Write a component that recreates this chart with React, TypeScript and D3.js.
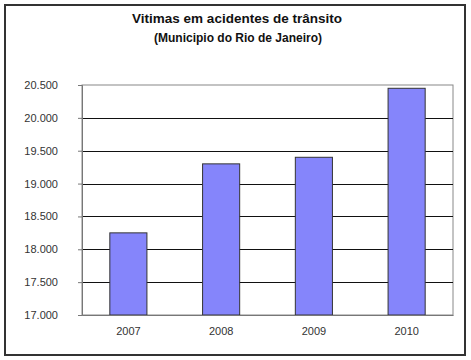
import React, {useEffect, useRef} from 'react';
import * as d3 from 'd3';

const years = ['2007', '2008', '2009', '2010'];
const victims = [18250, 19300, 19400, 20450];
const yTicks = [17000, 17500, 18000, 18500, 19000, 19500, 20000, 20500];
const title = 'Vitimas em acidentes de trânsito';
const subtitle = '(Municipio do Rio de Janeiro)';

const W = 471;
const H = 360;

export default function App() {
    const ref = useRef<SVGSVGElement>(null);

    useEffect(() => {
        const svg = d3.select(ref.current);
        svg.selectAll('*').remove();

        const left = 82, right = 453, top = 85, bottom = 315;
        const font = '"Liberation Sans", Arial, sans-serif';

        // outer frame
        svg.append('rect')
            .attr('x', 5).attr('y', 5)
            .attr('width', 460).attr('height', 350)
            .attr('fill', '#fff')
            .attr('stroke', '#333').attr('stroke-width', 2);

        svg.append('text')
            .attr('x', 237).attr('y', 23)
            .attr('text-anchor', 'middle')
            .attr('font-family', font).attr('font-weight', 'bold').attr('font-size', 13.5)
            .attr('fill', '#111')
            .text(title);
        svg.append('text')
            .attr('x', 238).attr('y', 42)
            .attr('text-anchor', 'middle')
            .attr('font-family', font).attr('font-weight', 'bold').attr('font-size', 12)
            .attr('fill', '#111')
            .text(subtitle);

        const x = d3.scaleBand()
            .domain(years)
            .range([left, right])
            .paddingInner(0.6)
            .paddingOuter(0.3);
        const y = d3.scaleLinear()
            .domain([17000, 20500])
            .range([bottom, top]);

        // plot border
        svg.append('rect')
            .attr('x', left).attr('y', top)
            .attr('width', right - left).attr('height', bottom - top)
            .attr('fill', '#fff')
            .attr('stroke', '#888').attr('stroke-width', 1);

        // gridlines
        svg.append('g')
            .selectAll('line')
            .data(yTicks.slice(1, -1))
            .enter()
            .append('line')
            .attr('x1', left).attr('x2', right)
            .attr('y1', d => Math.round(y(d)) + 0.5)
            .attr('y2', d => Math.round(y(d)) + 0.5)
            .attr('stroke', '#111').attr('stroke-width', 1.2);

        svg.append('g')
            .selectAll('rect')
            .data(victims)
            .enter()
            .append('rect')
            .attr('x', (d, i) => x(years[i])!)
            .attr('y', d => y(d))
            .attr('width', x.bandwidth())
            .attr('height', d => bottom - y(d))
            .attr('fill', '#8585fb')
            .attr('stroke', '#333').attr('stroke-width', 1);

        const yAxis = d3.axisLeft(y)
            .tickValues(yTicks)
            .tickSize(4)
            .tickPadding(20)
            .tickFormat(d => d3.format(',')(d as number).replace(',', '.'));
        const gy = svg.append('g')
            .attr('transform', `translate(${left},0)`)
            .call(yAxis);
        gy.select('.domain').attr('stroke', '#777');
        gy.selectAll('line').attr('stroke', '#777');
        gy.selectAll('text')
            .attr('font-family', font).attr('font-size', 11).attr('fill', '#333');

        const xAxis = d3.axisBottom(x).tickSize(0).tickPadding(12);
        const gx = svg.append('g')
            .attr('transform', `translate(0,${bottom})`)
            .call(xAxis);
        gx.select('.domain').attr('stroke', '#777');
        gx.selectAll('text')
            .attr('font-family', font).attr('font-size', 11).attr('fill', '#333');
    }, []);

    return (
        <svg ref={ref} width={W} height={H}
             style={{position: 'absolute', left: 0, top: 0, background: '#fff'}} />
    );
}
